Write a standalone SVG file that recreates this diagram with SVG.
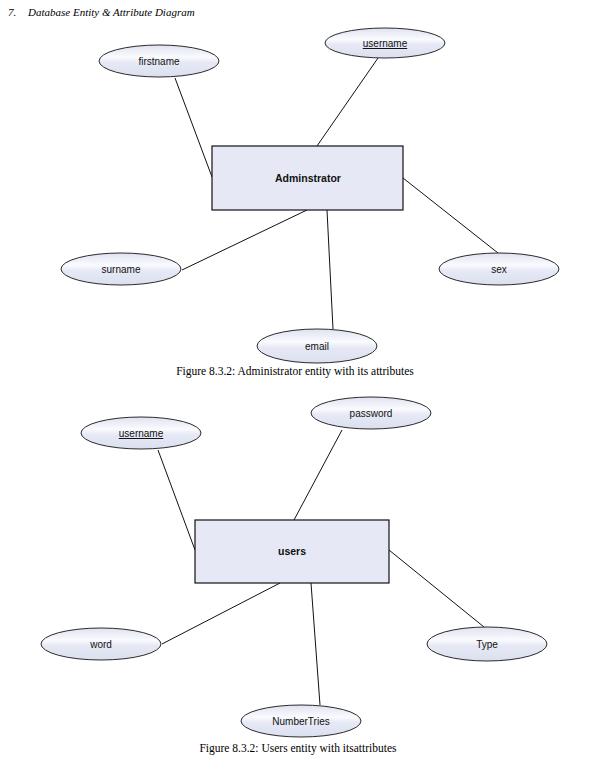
<svg xmlns="http://www.w3.org/2000/svg" width="597" height="763" viewBox="0 0 597 763">
<style>
.attr{fill:url(#eg);stroke:#2a2a2a;stroke-width:1}
.ent{fill:#e6e9f5;stroke:#111;stroke-width:1.2}
.lbl{font-family:"Liberation Sans",Arial,sans-serif;font-size:10px;fill:#111;text-anchor:middle}
.elbl{font-family:"Liberation Sans",Arial,sans-serif;font-size:10.5px;font-weight:bold;fill:#111;text-anchor:middle}
.cap{font-family:"Liberation Serif","Times New Roman",serif;font-size:11.5px;fill:#000;text-anchor:middle}
.title{font-family:"Liberation Serif","Times New Roman",serif;font-size:11px;font-style:italic;fill:#000}
.conn line{stroke:#111;stroke-width:1}
</style>
<defs>
<linearGradient id="eg" x1="0" y1="0" x2="0" y2="1">
<stop offset="0" stop-color="#dfe2f0"/>
<stop offset="0.38" stop-color="#fafbfe"/>
<stop offset="0.55" stop-color="#e6e9f5"/>
<stop offset="1" stop-color="#dcdfee"/>
</linearGradient>
</defs>
<rect width="597" height="763" fill="#fff"/>
<text class="title" x="8" y="16">7.</text>
<text class="title" x="28" y="16">Database Entity &amp; Attribute Diagram</text>

<g id="connectors1" class="conn">
<line x1="175" y1="78" x2="212" y2="177"/>
<line x1="378" y1="58" x2="317" y2="146"/>
<line x1="182" y1="270" x2="307" y2="210"/>
<line x1="403" y1="178" x2="498" y2="253"/>
<line x1="327" y1="210" x2="333" y2="329"/>
</g>
<g id="admin"><rect class="ent" x="212" y="146" width="191" height="64"/><text class="elbl" x="308" y="182">Adminstrator</text></g>
<g id="a-firstname"><ellipse class="attr" cx="159" cy="61" rx="60" ry="16"/><text class="lbl" x="159" y="65">firstname</text></g>
<g id="a-username"><ellipse class="attr" cx="385" cy="43" rx="60" ry="15"/><text class="lbl" x="385" y="47" text-decoration="underline">username</text></g>
<g id="a-surname"><ellipse class="attr" cx="121" cy="269" rx="60" ry="16"/><text class="lbl" x="121" y="273">surname</text></g>
<g id="a-sex"><ellipse class="attr" cx="499" cy="269" rx="60" ry="16"/><text class="lbl" x="499" y="273">sex</text></g>
<g id="a-email"><ellipse class="attr" cx="317" cy="346" rx="60" ry="17"/><text class="lbl" x="317" y="350">email</text></g>
<text class="cap" x="295" y="375">Figure 8.3.2: Administrator entity with its attributes</text>

<g id="connectors2" class="conn">
<line x1="158" y1="450" x2="195" y2="550"/>
<line x1="342" y1="430" x2="294" y2="520"/>
<line x1="162" y1="644" x2="280" y2="583"/>
<line x1="389" y1="550" x2="484" y2="627"/>
<line x1="311" y1="583" x2="320" y2="705"/>
</g>
<g id="users"><rect class="ent" x="195" y="520" width="194" height="63"/><text class="elbl" x="292" y="555">users</text></g>
<g id="u-username"><ellipse class="attr" cx="141" cy="433" rx="60" ry="16"/><text class="lbl" x="141" y="437" text-decoration="underline">username</text></g>
<g id="u-password"><ellipse class="attr" cx="371" cy="413" rx="60" ry="16"/><text class="lbl" x="371" y="417">password</text></g>
<g id="u-word"><ellipse class="attr" cx="101" cy="644" rx="60" ry="16"/><text class="lbl" x="101" y="648">word</text></g>
<g id="u-type"><ellipse class="attr" cx="487" cy="644" rx="60" ry="17"/><text class="lbl" x="487" y="648">Type</text></g>
<g id="u-numbertries"><ellipse class="attr" cx="301" cy="721" rx="60" ry="16"/><text class="lbl" x="301" y="725">NumberTries</text></g>
<text class="cap" x="298" y="752">Figure 8.3.2: Users entity with itsattributes</text>
</svg>
